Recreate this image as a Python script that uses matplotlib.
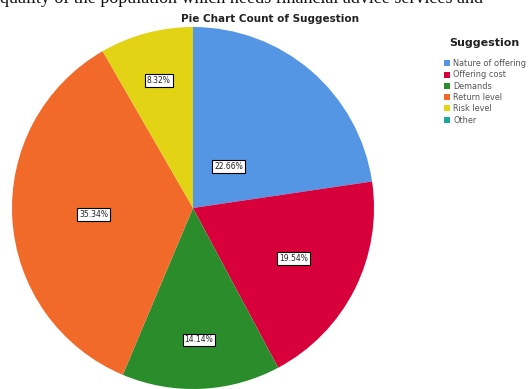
import numpy as np
import matplotlib.pyplot as plt

categories = ["Nature of offering", "Offering cost", "Demands", "Return level", "Risk level", "Other"]
percents = [22.66, 19.54, 14.14, 35.34, 8.32, 0.0]
colors = ["#5596E4", "#D8003A", "#2B8C2C", "#F26A2A", "#E2D314", "#1AA89A"]

# distance of each % label from centre (fraction of radius)
label_r = [0.30, 0.62, 0.73, 0.55, 0.73, 0.5]

fig = plt.figure(figsize=(5.28, 3.89), dpi=100)

# line of document text cut off by the top edge
fig.text(0.0, 1 - 3 / 389, "quality of the population which needs financial advice services and", ha="left",
         va="baseline", fontsize=13, family="Liberation Serif", color="#111111")

ax = fig.add_axes([12 / 528, 0, 362 / 528, 362 / 389])
shown = [p for p in percents if p > 0]
wedges, _ = ax.pie(shown, colors=colors[:len(shown)], startangle=90, counterclock=False,
                   wedgeprops=dict(linewidth=0))
ax.set_xlim(-1, 1)
ax.set_ylim(-1, 1)
ax.set_aspect("equal")

for w, p, r in zip(wedges, shown, label_r):
    ang = np.deg2rad((w.theta1 + w.theta2) / 2)
    ax.text(r * np.cos(ang), r * np.sin(ang), f"{p:.2f}%", ha="center", va="center",
            fontsize=5.5, color="#222222",
            bbox=dict(boxstyle="square,pad=0.25", fc="white", ec="black", lw=0.8))

fig.text(270 / 528, 1 - 19 / 389, "Pie Chart Count of Suggestion", ha="center", va="center",
         fontsize=7.5, fontweight="bold", color="#222222")

# legend
fig.text(484 / 528, 1 - 43 / 389, "Suggestion", ha="center", va="center",
         fontsize=8, fontweight="bold", color="#222222")
handles = [plt.Rectangle((0, 0), 1, 1, fc=c) for c in colors]
fig.legend(handles, categories, loc="upper left", bbox_to_anchor=(440 / 528, 1 - 55 / 389),
           frameon=False, fontsize=5.9, handlelength=0.75, handleheight=0.75,
           handletextpad=0.35, labelspacing=0.28, borderpad=0, labelcolor="#555555")

fig.savefig("out.png", dpi=100)
